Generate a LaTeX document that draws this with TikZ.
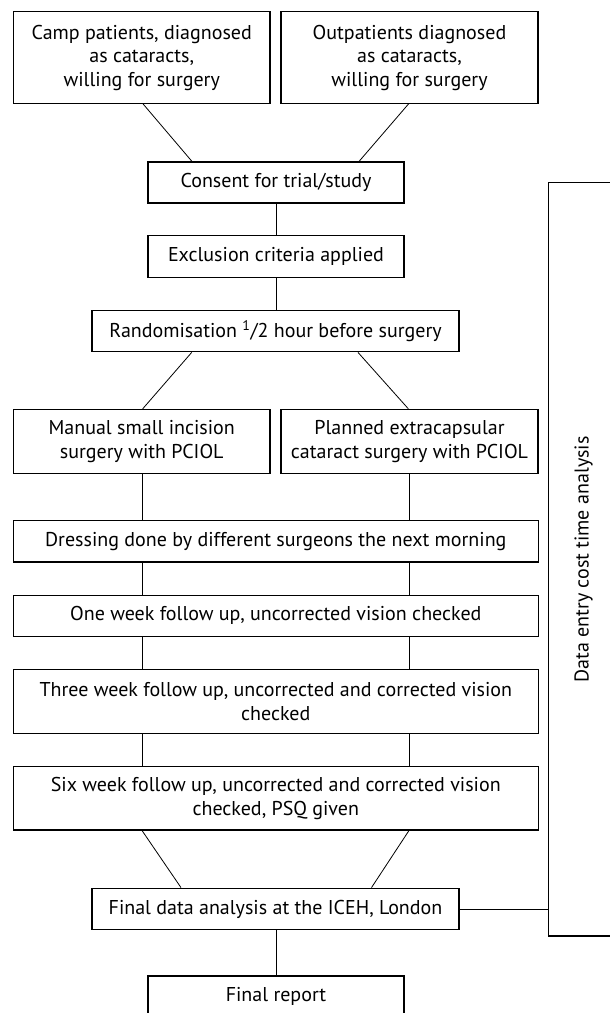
\documentclass[tikz,border=0pt]{standalone}
\usepackage{fontspec}
\setmainfont{PT Sans}
\begin{document}
\begin{tikzpicture}[x=1pt,y=-1pt,
  bx/.style 2 args={draw, line width=1.1pt, minimum width=#1, minimum height=#2,
    inner sep=0pt, align=center, font=\fontsize{20}{23.5}\selectfont},
  ln/.style={draw, line width=0.8pt}]
\useasboundingbox (0,0) rectangle (610,1013);
\clip (0,0) rectangle (610,1013);
\node[bx={256.5pt}{91.6pt}] (camp) at (141.75,57.5) {Camp patients, diagnosed\\as cataracts,\\willing for surgery};
\node[bx={257pt}{91.6pt}] (outp) at (409.5,57.5) {Outpatients diagnosed\\as cataracts,\\willing for surgery};
\node[bx={256pt}{41pt}] (consent) at (276,182.5) {Consent for trial/study};
\node[bx={256pt}{41.6pt}] (excl) at (276,256.5) {Exclusion criteria applied};
\node[bx={367pt}{41.7pt}] (rand) at (275.5,331) {Randomisation \textsuperscript{1}/2 hour before surgery};
\node[bx={256.5pt}{64.4pt}] (manual) at (141.75,441.5) {Manual small incision\\surgery with PCIOL};
\node[bx={257pt}{64.4pt}] (planned) at (409.5,441.5) {Planned extracapsular\\cataract surgery with PCIOL};
\node[bx={524.5pt}{41.3pt}] (dress) at (275.8,541.3) {Dressing done by different surgeons the next morning};
\node[bx={524.5pt}{41.3pt}] (one) at (275.8,615.7) {One week follow up, uncorrected vision checked};
\node[bx={524.5pt}{64pt}] (three) at (275.8,701.3) {Three week follow up, uncorrected and corrected vision\\checked};
\node[bx={524.5pt}{63.3pt}] (six) at (275.8,798.3) {Six week follow up, uncorrected and corrected vision\\checked, PSQ given};
\node[bx={367pt}{41.7pt}] (final) at (275.5,909) {Final data analysis at the ICEH, London};
\node[bx={256pt}{40pt}] (report) at (276,996) {Final report};
% bracket
\coordinate (bt) at (612,182.7);
\coordinate (bb) at (612,936);
\coordinate (bl) at (548.6,909);
\draw[line width=1.1pt] (bt) -| (bl) |- (bb);
\node[rotate=90, font=\fontsize{20}{23.5}\selectfont, inner sep=0pt] (lab) at (583.5,559.5) {Data entry cost time analysis};
% connectors
\draw[ln] ([xshift=1.25pt]camp.south) -- ([xshift=-84pt]consent.north);
\draw[ln] ([xshift=-0.9pt]outp.south) -- ([xshift=83pt]consent.north);
\draw[ln] (consent.south) -- (excl.north);
\draw[ln] (excl.south) -- ([xshift=0.5pt]rand.north);
\draw[ln] ([xshift=-83.8pt]rand.south) -- ([xshift=1pt]manual.north);
\draw[ln] ([xshift=82.5pt]rand.south) -- ([xshift=-1.2pt]planned.north);
\draw[ln] ([xshift=0.25pt]manual.south) -- ([xshift=0.25pt]manual.south |- dress.north);
\draw[ln] ([xshift=-0.5pt]planned.south) -- ([xshift=-0.5pt]planned.south |- dress.north);
\foreach \a/\b in {dress/one, one/three, three/six}{
  \draw[ln] ([xshift=-133.8pt]\a.south) -- ([xshift=-133.8pt]\b.north);
  \draw[ln] ([xshift=133.2pt]\a.south) -- ([xshift=133.2pt]\b.north);
}
\draw[ln] ([xshift=-133.8pt]six.south) -- ([xshift=-94.5pt]final.north);
\draw[ln] ([xshift=133.2pt]six.south) -- ([xshift=96pt]final.north);
\draw[ln] (final.east) -- (bl);
\draw[ln] ([xshift=0.5pt]final.south) -- (report.north);
\end{tikzpicture}
\end{document}
